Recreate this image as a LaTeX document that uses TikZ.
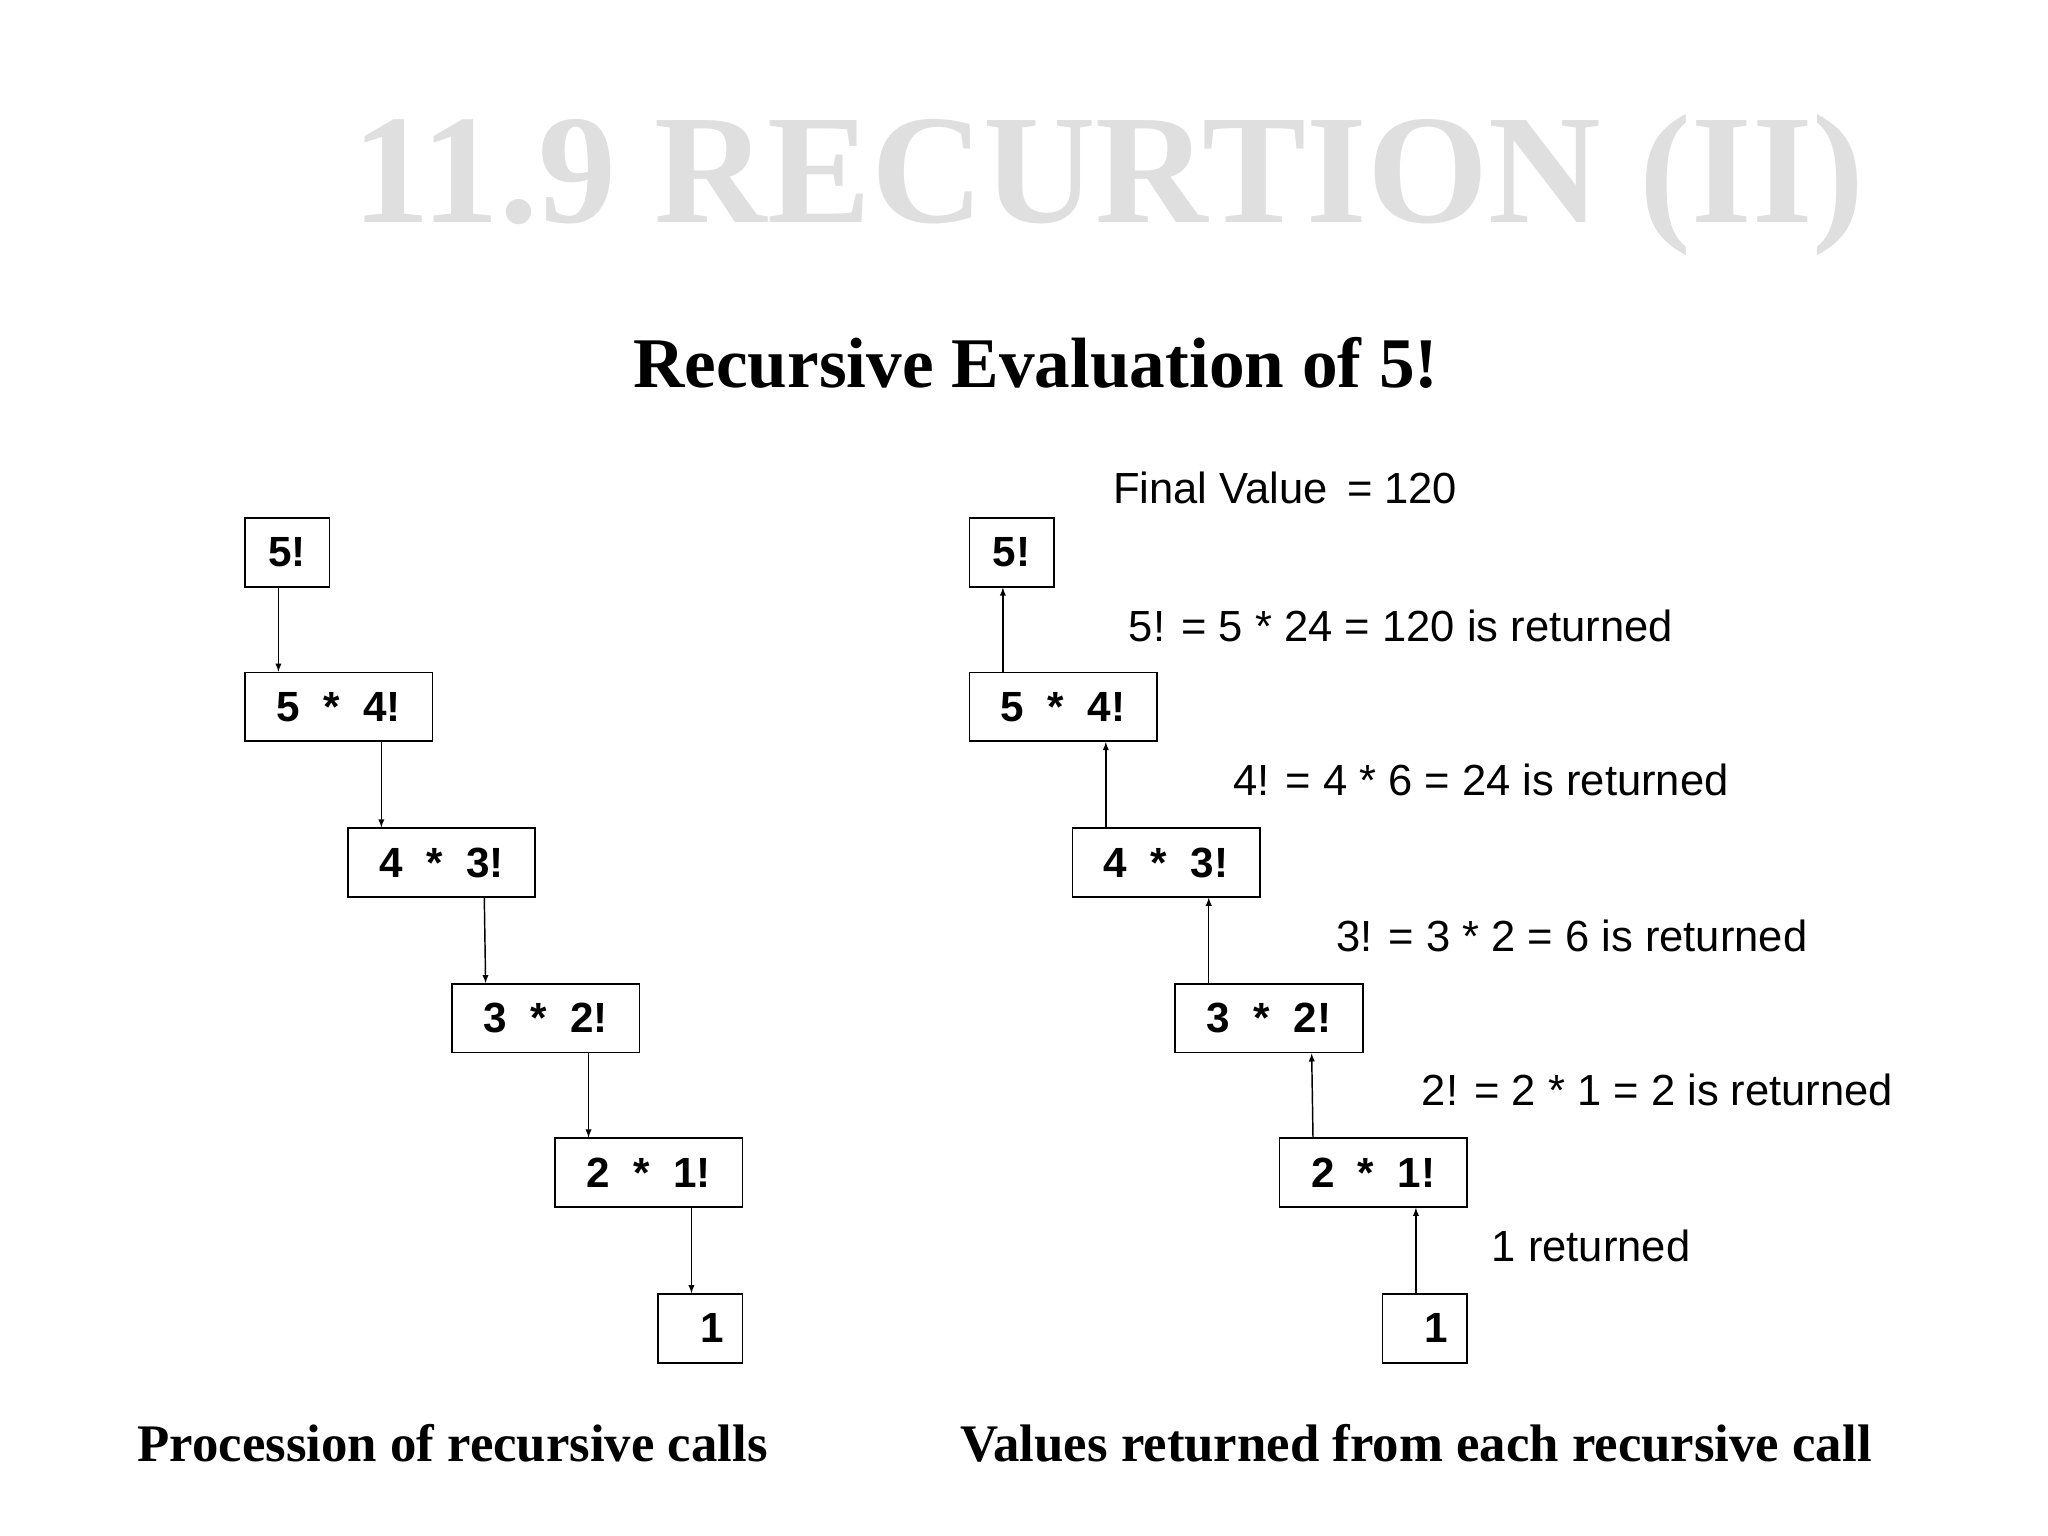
\documentclass[tikz,border=0pt]{standalone}
\usepackage{fontspec}
\setmainfont{Liberation Serif}
\setsansfont{Liberation Sans}
\begin{document}
\begin{tikzpicture}[x=1pt,y=-1pt,
  bx/.style={draw,line width=1.3pt,font=\sffamily\bfseries\fontsize{32}{34}\selectfont,minimum height=52pt,inner sep=0pt,anchor=north west},
  ar/.style={-latex,line width=1.1pt},
  lb/.style={font=\sffamily\fontsize{33}{36}\selectfont,anchor=west},
  captxt/.style={font=\bfseries\fontsize{40}{44}\selectfont}]
\useasboundingbox (0,0) rectangle (1552,1164);
\node[font=\bfseries\fontsize{118}{120}\selectfont,text=gray!25] (title) at (840,140) {11.9 RECURTION (II)};
\node[font=\bfseries\fontsize{54}{58}\selectfont] (sub) at (785,275) {Recursive Evaluation of 5!};
% left
\node[bx,minimum width=64pt] (l5) at (185,392) {5!};
\node[bx,minimum width=142pt] (l4) at (185,509) {5 \ * \ 4!};
\node[bx,minimum width=142pt] (l3) at (263,627) {4 \ * \ 3!};
\node[bx,minimum width=142pt] (l2) at (342,745) {3 \ * \ 2!};
\node[bx,minimum width=142pt] (l1) at (420,862) {2 \ * \ 1!};
\node[bx,minimum width=64pt] (l0) at (498,980) {\ \ 1};
\draw[ar] ([xshift=26pt]l5.south west) -- ([xshift=26pt]l4.north west);
\draw[ar] ([xshift=104pt]l4.south west) -- ([xshift=26pt]l3.north west);
\draw[ar] ([xshift=104pt]l3.south west) -- ([xshift=26pt]l2.north west);
\draw[ar] ([xshift=104pt]l2.south west) -- ([xshift=26pt]l1.north west);
\draw[ar] ([xshift=104pt]l1.south west) -- ([xshift=26pt]l0.north west);
% right
\node[bx,minimum width=64pt] (r5) at (734,392) {5!};
\node[bx,minimum width=142pt] (r4) at (734,509) {5 \ * \ 4!};
\node[bx,minimum width=142pt] (r3) at (812,627) {4 \ * \ 3!};
\node[bx,minimum width=142pt] (r2) at (890,745) {3 \ * \ 2!};
\node[bx,minimum width=142pt] (r1) at (969,862) {2 \ * \ 1!};
\node[bx,minimum width=64pt] (r0) at (1047,980) {\ \ 1};
\draw[ar] ([xshift=26pt]r4.north west) -- ([xshift=26pt]r5.south west);
\draw[ar] ([xshift=26pt]r3.north west) -- ([xshift=104pt]r4.south west);
\draw[ar] ([xshift=26pt]r2.north west) -- ([xshift=104pt]r3.south west);
\draw[ar] ([xshift=26pt]r1.north west) -- ([xshift=104pt]r2.south west);
\draw[ar] ([xshift=26pt]r0.north west) -- ([xshift=104pt]r1.south west);
\node[lb] (t0) at (840,370) {Final Value \,= 120};
\node[lb] (t1) at (852,474) {5! = 5 * 24 = 120 is returned};
\node[lb] (t2) at (931,591) {4! = 4 * 6 = 24 is returned};
\node[lb] (t3) at (1009,709) {3! = 3 * 2 = 6 is returned};
\node[lb] (t4) at (1074,826) {2! = 2 * 1 = 2 is returned};
\node[lb] (t5) at (1127,944) {1 returned};
\node[captxt] (c1) at (343,1094) {Procession of recursive calls};
\node[captxt] (c2) at (1073,1094) {Values returned from each recursive call};
\end{tikzpicture}
\end{document}
